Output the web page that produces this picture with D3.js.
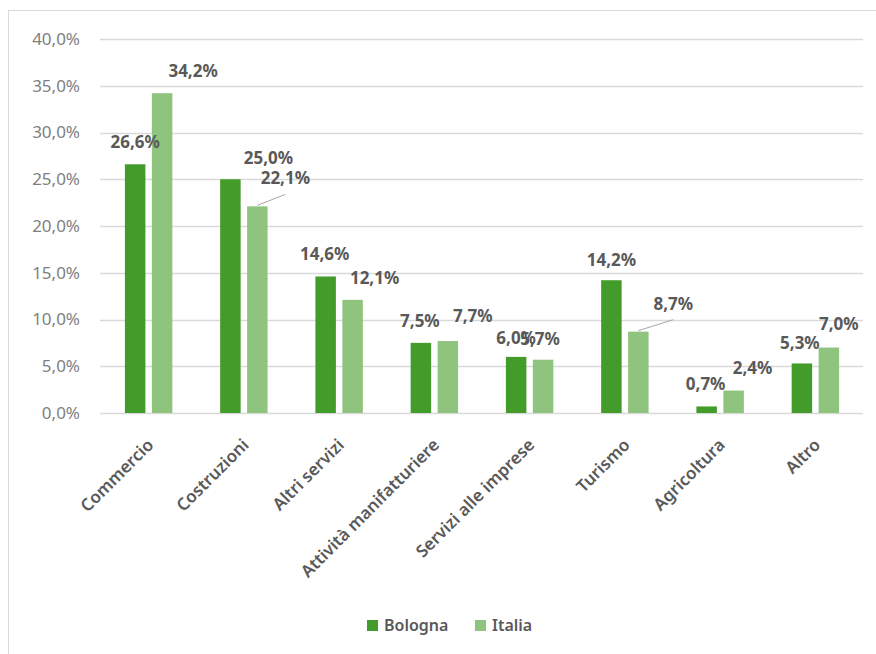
<!DOCTYPE html>
<html>
<head>
<meta charset="utf-8">
<script src="https://cdn.jsdelivr.net/npm/d3@7"></script>
<style>
  body { margin: 0; background: #fff; }
  svg { display: block; font-family: "Noto Sans", "Open Sans", sans-serif; }
</style>
</head>
<body>
<div id="chart"></div>
<script>
// data
const categories = ["Commercio", "Costruzioni", "Altri servizi", "Attività manifatturiere",
    "Servizi alle imprese", "Turismo", "Agricoltura", "Altro"];
const seriesNames = ["Bologna", "Italia"];
const bologna = [26.6, 25.0, 14.6, 7.5, 6.0, 14.2, 0.7, 5.3];
const italia = [34.2, 22.1, 12.1, 7.7, 5.7, 8.7, 2.4, 7.0];
const yTicks = [0, 5, 10, 15, 20, 25, 30, 35, 40];

// where Excel moved some data labels (dx, dy from bar top, in px)
const labelOffBologna = [[0, -22], [38, -21], [-1, -22], [-1, -22], [0, -19], [0, -20], [-1, -22], [-2, -20]];
const labelOffItalia = [[31, -22], [28, -28], [22, -22], [25, -25], [-3, -21], [35, -28], [19, -23], [10, -24]];
// labels that got a leader line
const leaderIdx = [1, 5];

const colors = {Bologna: "#439b2a", Italia: "#8ec47d"};
const textGray = "#595959";

const W = 876, H = 654;
const margin = {top: 39, right: 13, bottom: 241, left: 101};
const width = W - margin.left - margin.right;
const height = H - margin.top - margin.bottom;

const svg = d3.select("#chart").append("svg")
    .attr("width", W)
    .attr("height", H);

// chart frame
svg.append("rect")
    .attr("x", 8.5).attr("y", 10.5)
    .attr("width", 900).attr("height", 700)
    .attr("fill", "#fff")
    .attr("stroke", "#d9d9d9");

const g = svg.append("g")
    .attr("transform", "translate(" + margin.left + "," + margin.top + ")");

// scales
const x = d3.scaleBand().domain(categories).range([0, width]).padding(0);
const bw = x.bandwidth();
const xs = d3.scaleBand().domain(seriesNames)
    .range([bw * 0.251, bw * 0.749]).paddingInner(0.24);
const y = d3.scaleLinear().domain([0, 40]).range([height, 0]);

// gridlines + y labels
g.append("g")
    .selectAll("line")
    .data(yTicks)
    .join("line")
    .attr("x1", -1).attr("x2", width)
    .attr("y1", d => Math.round(y(d)) + 0.5)
    .attr("y2", d => Math.round(y(d)) + 0.5)
    .attr("stroke", "#d9d9d9")
    .attr("stroke-width", 1.3);

g.append("g")
    .selectAll("text")
    .data(yTicks)
    .join("text")
    .attr("x", -21)
    .attr("y", d => y(d))
    .attr("dy", "0.35em")
    .attr("text-anchor", "end")
    .attr("fill", "#7f7f7f")
    .style("font-size", "17px")
    .text(d => d3.format(".1f")(d).replace(".", ",") + "%");

// bars
const rows = categories.map((c, i) => ({cat: c, i: i, vals: [
    {s: "Bologna", v: bologna[i], off: labelOffBologna[i]},
    {s: "Italia", v: italia[i], off: labelOffItalia[i]}
]}));

const groups = g.append("g")
    .selectAll("g")
    .data(rows)
    .join("g")
    .attr("transform", d => "translate(" + x(d.cat) + ",0)");

groups.selectAll("rect")
    .data(d => d.vals)
    .join("rect")
    .attr("x", d => xs(d.s))
    .attr("width", xs.bandwidth())
    .attr("y", d => y(d.v))
    .attr("height", d => y(0) - y(d.v))
    .attr("fill", d => colors[d.s]);

// leader lines
groups.filter(d => leaderIdx.includes(d.i))
    .append("line")
    .attr("x1", d => xs("Italia") + xs.bandwidth() * 0.5)
    .attr("y1", d => y(d.vals[1].v) - 1)
    .attr("x2", d => xs("Italia") + xs.bandwidth() * 0.5 + d.vals[1].off[0])
    .attr("y2", d => y(d.vals[1].v) + d.vals[1].off[1] + 16)
    .attr("stroke", "#a6a6a6")
    .attr("stroke-width", 1);

// data labels
groups.selectAll("text.lbl")
    .data(d => d.vals)
    .join("text")
    .attr("class", "lbl")
    .attr("x", d => xs(d.s) + xs.bandwidth() / 2 + d.off[0])
    .attr("y", d => y(d.v) + d.off[1])
    .attr("dy", "0.35em")
    .attr("text-anchor", "middle")
    .attr("fill", textGray)
    .style("font-size", "17px")
    .style("font-weight", "bold")
    .text(d => d3.format(".1f")(d.v).replace(".", ",") + "%");

// category labels
g.append("g")
    .selectAll("text")
    .data(categories)
    .join("text")
    .attr("transform", d => "translate(" + (x(d) + bw / 2 + 6) + "," + (height + 33) + ") rotate(-45)")
    .attr("text-anchor", "end")
    .attr("fill", textGray)
    .style("font-size", "17px")
    .style("font-weight", "600")
    .text(d => d);

// legend
const legend = svg.append("g")
    .attr("transform", "translate(367,620)");
const legX = [0, 108];
seriesNames.forEach((s, i) => {
    legend.append("rect")
        .attr("x", legX[i]).attr("y", 0)
        .attr("width", 11).attr("height", 11)
        .attr("fill", colors[s]);
    legend.append("text")
        .attr("x", legX[i] + 17).attr("y", 5.5)
        .attr("dy", "0.35em")
        .attr("fill", textGray)
        .style("font-size", "16px")
        .style("font-weight", "600")
        .text(s);
});
</script>
</body>
</html>
